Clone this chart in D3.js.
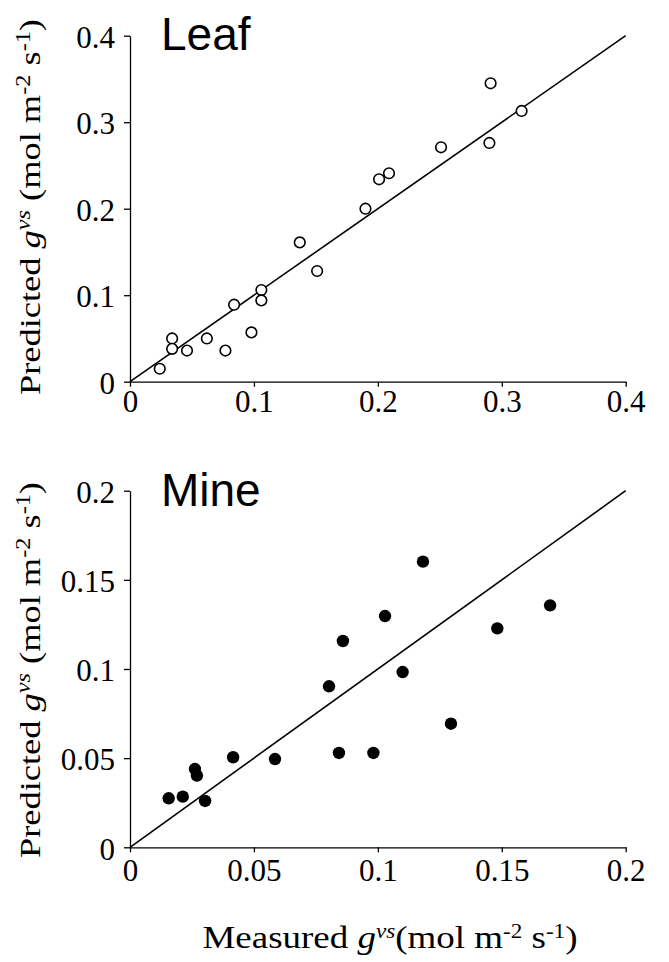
<!DOCTYPE html>
<html><head><meta charset="utf-8">
<script src="https://cdn.jsdelivr.net/npm/d3@7"></script>
<style>
body{margin:0;background:#fff;}
svg{display:block;}
</style></head>
<body><svg id="c" width="669" height="962"></svg>
<script>
// Leaf panel: measured vs predicted g_vs (mol m-2 s-1)
const leafMeasured = [0.024,0.034,0.034,0.046,0.062,0.077,0.084,0.098,0.106,0.106,0.137,0.151,0.190,0.201,0.209,0.251,0.290,0.291,0.316];
const leafPredicted = [0.015,0.050,0.038,0.036,0.050,0.036,0.089,0.057,0.106,0.094,0.161,0.128,0.200,0.234,0.241,0.271,0.276,0.345,0.313];
// Mine panel
const mineMeasured = [0.0156,0.0213,0.0262,0.0270,0.0303,0.0416,0.0585,0.0803,0.0843,0.0859,0.0982,0.1029,0.1100,0.1182,0.1295,0.1482,0.1695];
const minePredicted = [0.0275,0.0284,0.0439,0.0402,0.0260,0.0505,0.0495,0.0903,0.0529,0.1157,0.0529,0.1297,0.0983,0.1602,0.0693,0.1228,0.1357];
const leafTicks = [0,0.1,0.2,0.3,0.4];
const leafTickLabels = ["0","0.1","0.2","0.3","0.4"];
const mineTicks = [0,0.05,0.1,0.15,0.2];
const mineTickLabels = ["0","0.05","0.1","0.15","0.2"];
const panelTitles = ["Leaf","Mine"];

const svg = d3.select("#c");
const SERIF = "'Liberation Serif','Times New Roman',serif";

function unitLabel(sel, lead, gap){
  sel.append("tspan").text(lead);
  sel.append("tspan").attr("font-style","italic").text("g");
  sel.append("tspan").attr("font-style","italic").attr("font-size",20).attr("dy",-10).text("vs");
  sel.append("tspan").attr("dy",10).text(gap+"(mol m");
  sel.append("tspan").attr("font-size",20).attr("dy",-10).text("-2");
  sel.append("tspan").attr("dy",10).text(" s");
  sel.append("tspan").attr("font-size",20).attr("dy",-10).text("-1");
  sel.append("tspan").attr("dy",10).text(")");
}

function panel(cfg){
  const g = svg.append("g");
  const x = d3.scaleLinear().domain(cfg.domain).range([130,625.7]);
  const y = d3.scaleLinear().domain(cfg.domain).range([cfg.y0,cfg.y1]);
  const xa = g.append("g").attr("transform",`translate(0,${cfg.y0})`)
    .call(d3.axisBottom(x).tickValues(cfg.ticks).tickFormat((d,i)=>cfg.labels[i]).tickSizeInner(5).tickSizeOuter(0));
  const ya = g.append("g").attr("transform","translate(130,0)")
    .call(d3.axisLeft(y).tickValues(cfg.ticks).tickFormat((d,i)=>cfg.labels[i]).tickSizeInner(6).tickSizeOuter(0).tickPadding(9));
  [xa,ya].forEach(a=>{
    a.attr("font-family",SERIF).attr("font-size",31);
    a.select(".domain").attr("stroke","#000").attr("stroke-width",1.3);
    a.selectAll(".tick line").attr("stroke","#000").attr("stroke-width",1.3);
    a.selectAll(".tick text").attr("fill","#000");
  });
  xa.selectAll(".tick text").attr("y",cfg.xLabOff).attr("dy",0);
  ya.selectAll(".tick text").attr("dy","0.38em");
  // 1:1 line
  g.append("line").attr("x1",x(cfg.domain[0])).attr("y1",y(cfg.domain[0]))
    .attr("x2",x(cfg.domain[1])).attr("y2",y(cfg.domain[1]))
    .attr("stroke","#000").attr("stroke-width",1.6);
  const pts = cfg.mx.map((v,i)=>[v,cfg.py[i]]);
  g.selectAll("circle.pt").data(pts).enter().append("circle").attr("class","pt")
    .attr("cx",d=>x(d[0])).attr("cy",d=>y(d[1])).attr("r",cfg.r)
    .attr("fill",cfg.filled?"#000":"#fff").attr("stroke","#000").attr("stroke-width",cfg.filled?0:1.6);
  g.append("text").attr("x",161).attr("y",cfg.titleY).text(cfg.title)
    .attr("font-family","'Liberation Sans',Arial,sans-serif").attr("font-size",46).attr("fill","#000");
  // y label
  const yl = g.append("text").attr("transform",`translate(39.5,${cfg.labelC}) rotate(-90)`)
    .attr("text-anchor","middle").attr("font-family",SERIF).attr("font-size",30).attr("fill","#000")
    .attr("textLength",376).attr("lengthAdjust","spacingAndGlyphs");
  unitLabel(yl,"Predicted "," ");
}

panel({domain:[0,0.4],y0:381.7,y1:35.7,ticks:leafTicks,labels:leafTickLabels,mx:leafMeasured,py:leafPredicted,r:5.3,filled:false,title:panelTitles[0],titleY:50,labelC:207,xLabOff:30.5});
panel({domain:[0,0.2],y0:847.3,y1:490.7,ticks:mineTicks,labels:mineTickLabels,mx:mineMeasured,py:minePredicted,r:6.2,filled:true,title:panelTitles[1],titleY:506,labelC:670,xLabOff:34});

// x label
const xl = svg.append("text").attr("x",390).attr("y",948).attr("text-anchor","middle")
  .attr("font-family",SERIF).attr("font-size",32).attr("fill","#000")
  .attr("textLength",375).attr("lengthAdjust","spacingAndGlyphs");
unitLabel(xl,"Measured ","");
</script></body></html>
